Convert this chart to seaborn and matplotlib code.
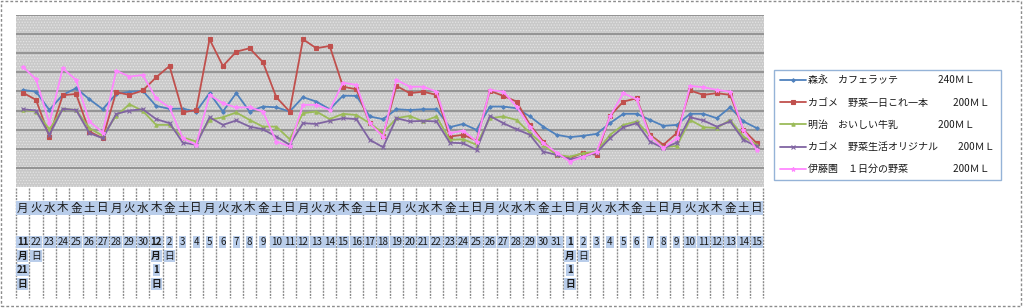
import numpy as np
import pandas as pd
import matplotlib
matplotlib.use("Agg")
import matplotlib.pyplot as plt
import matplotlib.transforms as mtransforms
from matplotlib.patches import Rectangle
import seaborn as sns

# ---------------- data ----------------
weekdays = ["月", "火", "水", "木", "金", "土", "日"] * 8
date_labels = [
    "11\n月\n21\n日", "22\n日", "23", "24", "25", "26", "27", "28", "29", "30",
    "12\n月\n1\n日", "2\n日", "3", "4", "5", "6", "7", "8", "9", "10",
    "11", "12", "13", "14", "15", "16", "17", "18", "19", "20",
    "21", "22", "23", "24", "25", "26", "27", "28", "29", "30", "31",
    "1\n月\n1\n日", "2\n日", "3", "4", "5", "6", "7", "8", "9", "10",
    "11", "12", "13", "14", "15",
]

series_names = [
    "森永　カフェラッテ",
    "カゴメ　野菜一日これ一本",
    "明治　おいしい牛乳",
    "カゴメ　野菜生活オリジナル",
    "伊藤園　１日分の野菜",
]
series_sizes = ["240ＭＬ", "200ＭＬ", "200ＭＬ", "200ＭＬ", "200ＭＬ"]
label_gaps = ["　　　　", "　　\u2002", "　　　　", "　　", "　　　　\u2002"]

morinaga = [5.08, 4.99, 4.03, 4.82, 5.17, 4.59, 4.07, 4.87, 4.98, 5.03, 4.24, 4.09, 4.10, 3.95,
            4.91, 3.95, 4.91, 3.95, 4.21, 4.17, 3.95, 4.70, 4.47, 4.07, 4.78, 4.77, 3.69, 3.55,
            4.07, 4.03, 4.07, 4.07, 3.13, 3.30, 2.99, 4.21, 4.21, 4.12, 3.69, 3.16, 2.73, 2.61,
            2.68, 2.78, 3.34, 3.83, 3.83, 3.51, 3.20, 3.25, 3.83, 3.83, 3.60, 4.17, 3.43, 3.08]
kagome_ichinichi = [4.94, 4.56, 2.64, 4.80, 4.87, 2.90, 2.55, 4.96, 4.82, 5.05, 5.74, 6.33, 3.91, 4.03,
                    7.73, 6.33, 7.08, 7.26, 6.53, 4.70, 3.95, 7.73, 7.26, 7.38, 5.25, 5.11, 3.34, 2.68,
                    5.29, 4.91, 4.99, 4.82, 2.64, 2.73, 2.43, 5.03, 4.77, 4.47, 3.25, 2.38, 1.68, 1.51,
                    1.80, 1.68, 3.72, 4.47, 4.64, 2.73, 2.21, 2.82, 5.05, 4.82, 4.91, 4.82, 2.99, 2.29]
meiji_milk = [4.03, 3.95, 3.02, 4.09, 4.03, 3.08, 2.68, 3.72, 4.33, 3.98, 3.25, 3.25, 2.59, 2.38,
              3.51, 3.65, 3.90, 3.51, 3.16, 3.16, 2.50, 3.86, 3.95, 3.55, 3.83, 3.77, 3.34, 2.82,
              3.60, 3.72, 3.43, 3.69, 2.47, 2.50, 2.21, 3.60, 3.69, 3.51, 2.82, 2.21, 1.68, 1.59,
              1.77, 1.85, 2.73, 3.25, 3.43, 2.68, 2.08, 2.15, 3.51, 3.13, 3.08, 3.51, 2.64, 2.21]
kagome_yasaiseikatsu = [4.07, 4.00, 2.73, 4.09, 4.03, 2.82, 2.55, 3.82, 4.00, 4.07, 3.55, 3.34, 2.32, 2.21,
                        3.65, 3.25, 3.48, 3.16, 3.02, 2.64, 2.21, 3.34, 3.30, 3.46, 3.60, 3.55, 2.47, 2.08,
                        3.60, 3.43, 3.46, 3.43, 2.32, 2.29, 1.94, 3.72, 3.34, 3.02, 2.73, 1.85, 1.68, 1.45,
                        1.59, 1.80, 2.55, 3.13, 3.34, 2.38, 2.03, 2.32, 3.65, 3.48, 3.16, 3.43, 2.47, 2.12]
itoen_yasai = [6.30, 5.64, 3.34, 6.21, 5.60, 3.43, 2.85, 6.09, 5.78, 5.86, 4.64, 4.16, 2.55, 2.21,
               4.82, 4.38, 4.16, 4.17, 3.95, 2.38, 2.12, 4.30, 4.30, 4.03, 5.46, 5.34, 3.34, 2.64,
               5.60, 5.25, 5.25, 4.99, 2.82, 2.95, 2.38, 5.08, 4.99, 4.21, 3.16, 2.29, 1.80, 1.33,
               1.59, 1.85, 3.69, 4.91, 4.59, 2.64, 2.03, 2.55, 5.29, 5.22, 5.08, 4.99, 2.99, 1.94]

all_series = [morinaga, kagome_ichinichi, meiji_milk, kagome_yasaiseikatsu, itoen_yasai]

# ---------------- styles ----------------
colors = ["#4F81BD", "#C0504D", "#9BBB59", "#8064A2", "#FF88FF"]
markers = ["D", "s", "^", "x", "*"]
msizes = [1.8, 2.3, 2.4, 3.0, 3.2]

sns.set_theme(style="white")
plt.rcParams["font.family"] = ["Noto Sans CJK JP", "DejaVu Sans"]
plt.rcParams["hatch.linewidth"] = 0.6

W, H = 1023, 308
fig = plt.figure(figsize=(W / 100, H / 100), dpi=100)
fig.patch.set_facecolor("white")

ax_left, ax_right, ax_top, ax_bot = 16, 763.5, 15, 187
ax = fig.add_axes([ax_left / W, 1 - ax_bot / H, (ax_right - ax_left) / W, (ax_bot - ax_top) / H])
ax.set_facecolor("#c9c9c9")
ax.add_patch(Rectangle((0, 0), 1, 1, transform=ax.transAxes, facecolor="none",
                       hatch="......", edgecolor="#e4e4e4", linewidth=0, zorder=0))

x = np.arange(len(weekdays))
for vals, name, gap, size, c, m, ms in zip(all_series, series_names, label_gaps, series_sizes,
                                          colors, markers, msizes):
    sns.lineplot(x=x, y=vals, ax=ax, color=c, marker=m, markersize=ms,
                 markeredgecolor=c, markerfacecolor=c, markeredgewidth=0.8, linewidth=1.3,
                 label=name + gap + size, zorder=3)

ax.set_xlim(-0.5, len(weekdays) - 0.5)
ax.set_ylim(0, 9)
ax.set_yticks(np.arange(1, 10))
ax.yaxis.grid(True, color="#8a8a8a", linewidth=1.2)
ax.xaxis.grid(False)
ax.set_axisbelow(True)
ax.set_xticks([])
ax.tick_params(left=False, labelleft=False, bottom=False, labelbottom=False)
ax.set_xlabel("")
ax.set_ylabel("")
for s in ax.spines.values():
    s.set_visible(False)

# ---------------- category table under the axis ----------------
trans = mtransforms.blended_transform_factory(ax.transData, fig.transFigure)
for k in range(len(weekdays) + 1):
    ax.plot([k - 0.5, k - 0.5], [1 - 187.5 / H, 1 - 298 / H], transform=trans,
            color="#8c8c8c", linewidth=1.0, linestyle=(0, (1.5, 0.8)), clip_on=False)

hl = dict(boxstyle="square,pad=0.08", facecolor="#b9cdea", edgecolor="none")
for i, wd in enumerate(weekdays):
    ax.text(i, 1 - 208 / H, wd, transform=trans, ha="center", va="center",
            fontsize=8.3, color="#1a1a1a", bbox=hl, clip_on=False)
for i, lab in enumerate(date_labels):
    bold = "月" in lab
    for j, part in enumerate(lab.split("\n")):
        ax.text(i, 1 - (242 + 14 * j) / H, part, transform=trans, ha="center", va="center",
                fontsize=7.0, color="#1a1a1a", fontweight="bold" if bold else "normal",
                bbox=hl, clip_on=False)

# ---------------- legend ----------------
handles, labels = ax.get_legend_handles_labels()
leg = ax.legend(handles, labels, loc="upper left",
                bbox_to_anchor=(774 / W, 1 - 70 / H), bbox_transform=fig.transFigure,
                borderaxespad=0, fontsize=7.2, frameon=True, fancybox=False,
                handlelength=2.6, handletextpad=0.3, labelspacing=1.22,
                borderpad=0.55, framealpha=1)
leg.get_frame().set_edgecolor("#95b3d7")
leg.get_frame().set_linewidth(1.0)
for t in leg.get_texts():
    t.set_color("#1a1a1a")

# ---------------- outer chart border ----------------
fig.patches.append(Rectangle((1 / W, 1 - 306 / H), 1020 / W, 305 / H, transform=fig.transFigure,
                             fill=False, edgecolor="#8c8c8c", linewidth=1.0,
                             linestyle=(0, (2, 1.5))))

fig.savefig("out.png", dpi=100)
